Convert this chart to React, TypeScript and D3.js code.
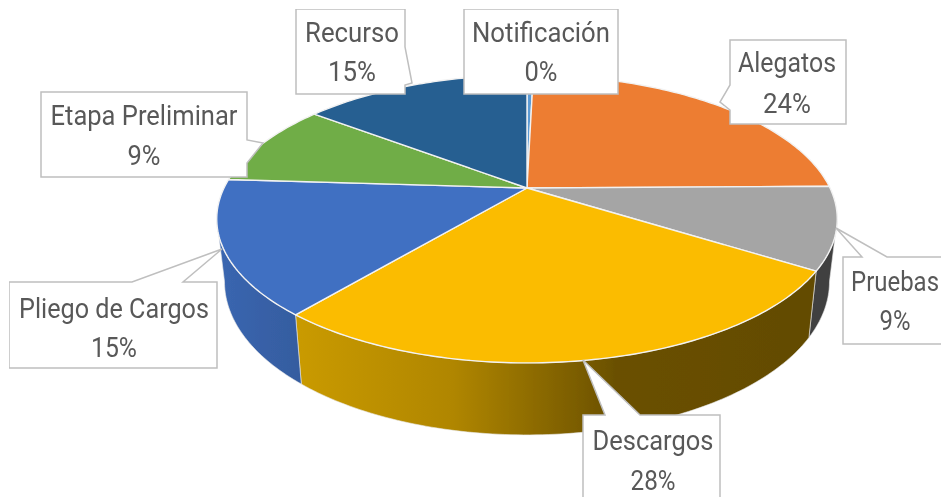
import React from "react";
import * as d3 from "d3";

const categories = ["Notificación", "Alegatos", "Pruebas", "Descargos", "Pliego de Cargos", "Etapa Preliminar", "Recurso"];
const percentLabels = ["0%", "24%", "9%", "28%", "15%", "9%", "15%"];
const values = [0.4, 24.4, 9.2, 27.0, 15.0, 9.4, 14.6];
const colors = ["#5b9bd5", "#ed7d31", "#a5a5a5", "#fbbc00", "#4070c2", "#70ad47", "#255e91"];

const W = 941, H = 497;
const cx = 527, cy = 188, kPersp = 0.215, A = 137.3, B = 303;
const lowerScale = 0.975;
const FONT_SIZE = 28;

// Perspective projection of the pie's circular rim
const top = (t: number): [number, number] => {
  const s = 1 / (1 + kPersp * Math.cos(t));
  return [cx + B * Math.sin(t) * s, cy - A * Math.cos(t) * s];
};
const low = (t: number): [number, number] => {
  const [x, y] = top(t);
  return [cx + (x - cx) * lowerScale, y + 60 + 12 * -Math.cos(t)];
};
const wallMin = Math.acos(-kPersp);
const wallMax = 2 * Math.PI - wallMin;

const samples = (a: number, b: number) => {
  const n = Math.max(2, Math.ceil(Math.abs(b - a) * 60));
  return d3.range(n + 1).map((i) => a + ((b - a) * i) / n);
};
const line = d3.line();

type Box = { x: number; y: number; w: number; h: number; wedge: [number, number][] | null; cxText: number; base: [number, number]; widths: [number, number] };
const boxes: Box[] = [
  { x: 464, y: 9, w: 154, h: 85, wedge: null, cxText: 541, base: [42, 81], widths: [138, 33] },
  { x: 730, y: 40, w: 116, h: 84, wedge: [[730, 85], [720, 102], [730, 110]], cxText: 787, base: [72, 113], widths: [98, 48] },
  { x: 843, y: 257, w: 110, h: 87, wedge: [[862, 257], [836, 228], [887, 257]], cxText: 895, base: [291, 330], widths: [88, 31] },
  { x: 583, y: 415, w: 137, h: 95, wedge: [[605, 415], [583, 360], [640, 415]], cxText: 653, base: [450, 490], widths: [121, 45] },
  { x: 9, y: 282, w: 208, h: 86, wedge: [[132, 282], [222, 249], [183, 282]], cxText: 114, base: [318, 357], widths: [190, 46] },
  { x: 41, y: 92, w: 206, h: 85, wedge: [[247, 140], [263, 143], [247, 163]], cxText: 144, base: [125, 165], widths: [187, 33] },
  { x: 296, y: 9, w: 109, h: 85, wedge: [[405, 47], [412, 83], [405, 85]], cxText: 352, base: [42, 81], widths: [94, 48] },
];

const TEXT = "#595959";

const measureCtx = document.createElement("canvas").getContext("2d")!;
measureCtx.font = `${FONT_SIZE}px Roboto`;
const squeeze = (txt: string, target: number) => target / measureCtx.measureText(txt).width;

const boxOutline = (b: Box): [number, number][] => {
  const right = b.x + b.w, bottom = b.y + b.h;
  if (!b.wedge) return [[b.x, b.y], [right, b.y], [right, bottom], [b.x, bottom]];
  const ptr = b.wedge;
  const [ax, ay] = ptr[0];
  if (ay === b.y) return [[b.x, b.y], ...ptr, [right, b.y], [right, bottom], [b.x, bottom]];
  if (ay === bottom) return [[b.x, b.y], [right, b.y], [right, bottom], ...ptr.slice().reverse(), [b.x, bottom]];
  if (ax === right) return [[b.x, b.y], [right, b.y], ...ptr, [right, bottom], [b.x, bottom]];
  return [[b.x, b.y], [right, b.y], [right, bottom], [b.x, bottom], ...ptr.slice().reverse()];
};

export default function App() {
  const arcs = d3.pie<number>().sort(null).startAngle(0).endAngle(2 * Math.PI)(values);
  const wallFill = (i: number) => (i === 2 ? "#414141" : i === 3 ? "url(#gDesc)" : "url(#gPliego)");

  return (
    <svg width={W} height={H} viewBox={`0 0 ${W} ${H}`} style={{ position: "fixed", left: 0, top: 0, background: "#fff" }}>
      <defs>
        <linearGradient id="gDesc" gradientUnits="userSpaceOnUse" x1={300} x2={810} y1={0} y2={0}>
          <stop offset="0" stopColor="#c99a00" />
          <stop offset="0.3" stopColor="#b08600" />
          <stop offset="0.62" stopColor="#6a5000" />
          <stop offset="1" stopColor="#634b00" />
        </linearGradient>
        <linearGradient id="gPliego" gradientUnits="userSpaceOnUse" x1={220} x2={302} y1={0} y2={0}>
          <stop offset="0" stopColor="#3a66b0" />
          <stop offset="1" stopColor="#355c9f" />
        </linearGradient>
        <filter id="soft" x="0" y="0" width="1" height="1">
          <feGaussianBlur stdDeviation="0.45" />
        </filter>
      </defs>
      <g filter="url(#soft)">
        {arcs.map((a, i) => {
          const t0 = Math.max(a.startAngle, wallMin);
          const t1 = Math.min(a.endAngle, wallMax);
          if (t1 <= t0) return null;
          const pts = [...samples(t0, t1).map(top), ...samples(t1, t0).map(low)];
          return <path key={i} d={line(pts) + "Z"} fill={wallFill(i)} stroke="#e8e8e8" strokeWidth={0.6} />;
        })}
        {arcs.map((a, i) => {
          const pts: [number, number][] = [[cx, cy], ...samples(a.startAngle, a.endAngle).map(top)];
          return <path key={i} d={line(pts) + "Z"} fill={colors[i]} stroke="#f2f2f2" strokeWidth={1.4} strokeLinejoin="round" />;
        })}
        {boxes.map((b, i) => {
          const labels = [categories[i], percentLabels[i]];
          return (
            <g key={i}>
              <path d={line(boxOutline(b)) + "Z"} fill="#fff" stroke="#bfbfbf" strokeWidth={1.5} />
              {labels.map((txt, j) => (
                <text
                  key={j}
                  transform={`translate(${b.cxText},${b.base[j]}) scale(${squeeze(txt, b.widths[j])},1)`}
                  textAnchor="middle"
                  fontFamily="Roboto"
                  fontSize={FONT_SIZE}
                  fill={TEXT}
                >
                  {txt}
                </text>
              ))}
            </g>
          );
        })}
      </g>
    </svg>
  );
}
